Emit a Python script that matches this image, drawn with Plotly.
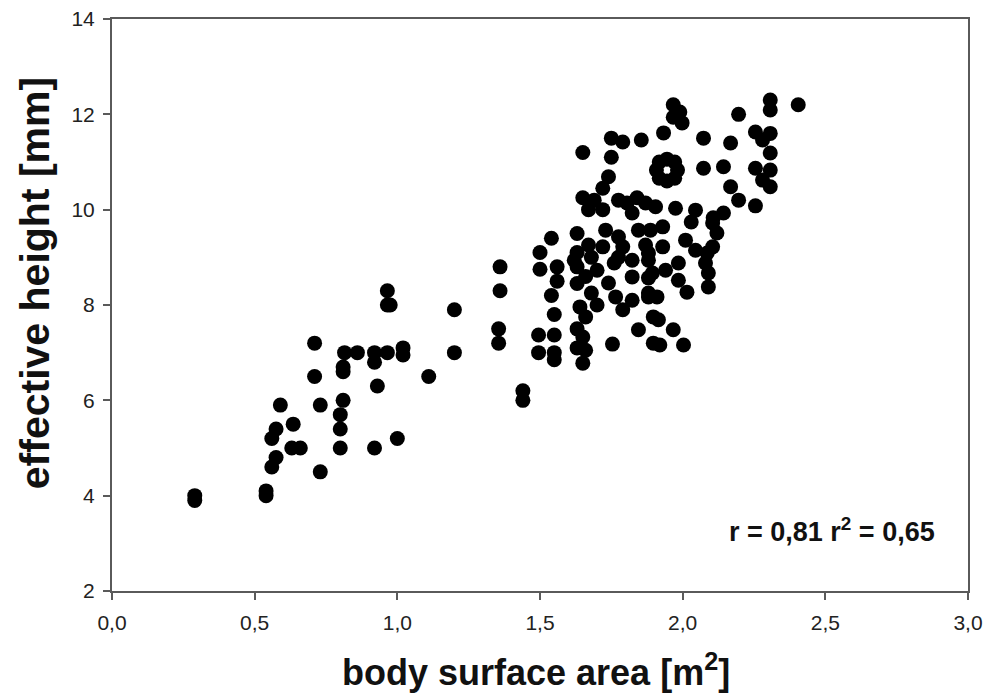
import plotly.graph_objects as go

bsa = [
    0.29, 0.29, 0.54, 0.54, 0.56, 0.575, 0.56, 0.575, 0.59, 0.635, 0.63, 0.66, 0.73,
    0.71, 0.71, 0.73, 0.815, 0.86, 0.81, 0.81, 0.81, 0.80, 0.80, 0.80,
    0.92, 0.965, 0.92, 0.93, 0.92, 1.0, 1.02, 1.02, 0.965, 0.965, 0.975, 1.11,
    1.2, 1.2, 1.36, 1.36, 1.355, 1.355, 1.44, 1.44,
    1.54, 1.50, 1.50, 1.56, 1.56, 1.54, 1.55, 1.495, 1.55, 1.495, 1.55, 1.55,
    1.65, 1.65, 1.63, 1.63, 1.63, 1.63, 1.64, 1.66, 1.63, 1.65, 1.63, 1.66, 1.65,
    1.75, 1.79, 1.855, 1.75, 1.74, 1.72, 1.69, 1.67, 1.72, 1.775, 1.805, 1.84, 1.87, 1.823,
    1.67, 1.73, 1.72, 1.775, 1.79, 1.845, 1.87, 1.88,
    1.62, 1.68, 1.70, 1.775, 1.823, 1.88, 1.66, 1.68, 1.74, 1.765, 1.79, 1.823, 1.88,
    1.823, 1.88, 1.754, 1.845, 1.897, 1.897, 1.76, 1.70,
    1.945, 1.972, 1.982, 1.972, 1.945, 1.918, 1.908, 1.918,
    2.073, 2.143, 2.073, 1.905, 1.975, 2.045, 2.03, 1.887, 1.93, 1.93, 2.01, 2.045,
    2.105, 2.105, 1.985, 2.08, 1.94, 1.894, 1.985, 2.015, 2.09, 2.09, 1.88, 1.91,
    1.915, 1.967, 1.92, 2.003,
    1.967, 1.99, 1.967, 1.998, 1.933, 2.168, 2.196, 2.168,
    2.307, 2.307, 2.405, 2.255, 2.307, 2.28, 2.307, 2.255, 2.307, 2.28, 2.307,
    2.196, 2.255, 2.143, 2.107, 2.12, 2.086,
]
height = [
    4.0, 3.9, 4.1, 4.0, 4.6, 4.8, 5.2, 5.4, 5.9, 5.5, 5.0, 5.0, 4.5,
    7.2, 6.5, 5.9, 7.0, 7.0, 6.7, 6.6, 6.0, 5.7, 5.4, 5.0,
    7.0, 7.0, 6.8, 6.3, 5.0, 5.2, 7.1, 6.95, 8.3, 8.0, 8.0, 6.5,
    7.9, 7.0, 8.8, 8.3, 7.5, 7.2, 6.2, 6.0,
    9.4, 9.1, 8.75, 8.8, 8.5, 8.2, 7.8, 7.37, 7.37, 7.0, 7.0, 6.85,
    11.2, 10.25, 9.5, 9.1, 8.8, 8.45, 7.96, 7.75, 7.5, 7.33, 7.1, 7.05, 6.78,
    11.5, 11.42, 11.46, 11.1, 10.69, 10.45, 10.2, 10.0, 10.0, 10.2, 10.14, 10.25, 10.14, 9.93,
    9.26, 9.57, 9.22, 9.43, 9.22, 9.57, 9.26, 9.09,
    8.94, 9.0, 8.73, 9.0, 8.94, 8.94, 8.6, 8.25, 8.46, 8.17, 7.9, 8.1, 8.25,
    8.59, 8.57, 7.18, 7.48, 7.75, 7.2, 8.88, 8.0,
    11.06, 11.0, 10.83, 10.66, 10.6, 10.66, 10.83, 11.0,
    10.87, 10.9, 11.5, 10.06, 10.03, 9.99, 9.74, 9.57, 9.64, 9.22, 9.36, 9.15,
    9.72, 9.22, 8.88, 8.88, 8.73, 8.67, 8.52, 8.27, 8.67, 8.38, 8.17, 8.17,
    7.69, 7.48, 7.16, 7.16,
    12.2, 12.05, 11.94, 11.82, 11.61, 11.4, 12.0, 10.48,
    12.3, 12.09, 12.2, 11.63, 11.6, 11.46, 11.19, 10.87, 10.83, 10.62, 10.48,
    10.2, 10.08, 9.93, 9.83, 9.51, 9.09,
]

x_ticks = [0.0, 0.5, 1.0, 1.5, 2.0, 2.5, 3.0]
y_ticks = [2, 4, 6, 8, 10, 12, 14]
x_title = "body surface area [m<sup>2</sup>]"
y_title = "effective height [mm]"
stat_text = "r = 0,81 r<sup>2</sup> = 0,65"

FONT = "Liberation Sans, Arial, sans-serif"

fig = go.Figure()
fig.add_trace(go.Scatter(
    x=bsa, y=height, mode="markers",
    marker=dict(color="black", size=15, line=dict(width=0)),
    showlegend=False,
))

axis_common = dict(
    showgrid=False, zeroline=False, showline=True, linecolor="#5a5a5a", linewidth=2,
    mirror=True, ticks="outside", ticklen=7, tickwidth=1.5, tickcolor="#5a5a5a",
    tickfont=dict(family=FONT, size=21, color="#222222"), automargin=False,
    ticklabeloverflow="allow",
)

# page body has an 8px default margin: figure shrunk so the plot area lands where the reference has it
fig.update_layout(
    width=986, height=691,
    margin=dict(l=104, r=26, t=11, b=108),
    paper_bgcolor="white", plot_bgcolor="white",
    separators=",.",
    xaxis=dict(range=[0, 3], tickvals=x_ticks, tickformat=".1f", ticklabelstandoff=5,
               **axis_common),
    yaxis=dict(range=[2, 14], tickvals=y_ticks, ticklabelstandoff=4,
               **axis_common),
    font=dict(family=FONT),
)

fig.add_annotation(
    x=0.495, y=-0.138, xref="paper", yref="paper", xanchor="center", yanchor="middle",
    text="<b>" + x_title + "</b>", showarrow=False,
    font=dict(family=FONT, size=36, color="#111111"),
)
fig.add_annotation(
    x=-0.09, y=0.538, xref="paper", yref="paper", xanchor="center", yanchor="middle",
    text="<b>" + y_title + "</b>", showarrow=False, textangle=-90,
    font=dict(family=FONT, size=41, color="#111111"),
)
fig.add_annotation(
    x=2.89, y=3.28, xref="x", yref="y", xanchor="right", yanchor="middle",
    text="<b>" + stat_text + "</b>", showarrow=False,
    font=dict(family=FONT, size=27, color="#111111"),
)

fig.write_html("out.html")
